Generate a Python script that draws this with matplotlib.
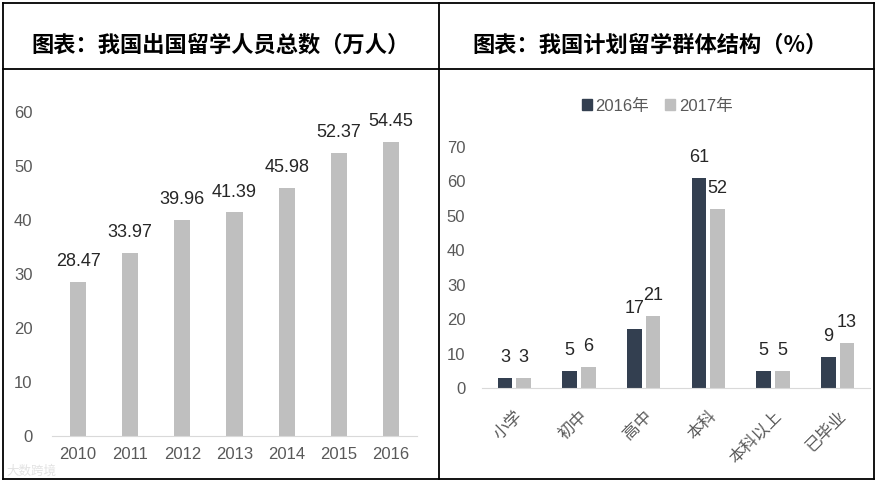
import matplotlib
matplotlib.use("Agg")
import matplotlib.pyplot as plt
from matplotlib.lines import Line2D
from matplotlib.patches import Patch
from matplotlib import font_manager

# data ---------------------------------------------------------------------
years = ["2010", "2011", "2012", "2013", "2014", "2015", "2016"]
students = [28.47, 33.97, 39.96, 41.39, 45.98, 52.37, 54.45]

levels = ["小学", "初中", "高中", "本科", "本科以上", "已毕业"]
share_2016 = [3, 5, 17, 61, 5, 9]
share_2017 = [3, 6, 21, 52, 5, 13]

title_left = "图表：我国出国留学人员总数（万人）"
title_right = "图表：我国计划留学群体结构（%）"
legend_labels = ["2016年", "2017年"]

# fonts --------------------------------------------------------------------
names = {f.name for f in font_manager.fontManager.ttflist}
num_font = "Liberation Sans Narrow" if "Liberation Sans Narrow" in names else "Liberation Sans"
cjk = "Noto Sans CJK SC"
plt.rcParams["font.family"] = [num_font, cjk, "DejaVu Sans"]

GREY = "#BFBFBF"
NAVY = "#333F50"
TXT = "#595959"

fig = plt.figure(figsize=(8.77, 4.83), dpi=100)
W, H = 877, 483


def fx(px):
    return px / W


def fy(py):
    return 1 - py / H


# table borders
for (x0, y0, x1, y1) in [(3, 3, 874, 3), (3, 69, 874, 69), (3, 479, 874, 479),
                         (3, 3, 3, 479), (874, 3, 874, 479), (439, 3, 439, 479)]:
    fig.add_artist(Line2D([fx(x0), fx(x1)], [fy(y0), fy(y1)], color="black", lw=1.3))

fig.text(fx(221), fy(45), title_left, ha="center", va="center", fontsize=16,
         family=[cjk], fontweight="bold", color="black")
fig.text(fx(650), fy(45), title_right, ha="center", va="center", fontsize=16,
         family=[cjk], fontweight="bold", color="black")

# left chart ---------------------------------------------------------------
axl = fig.add_axes([fx(52), fy(436), fx(417) - fx(52), fy(112) - fy(436)])
xl = range(len(years))
axl.bar(xl, students, width=0.31, color=GREY)
for x, v in zip(xl, students):
    axl.text(x, v + 2.2, f"{v:.2f}", ha="center", va="bottom", fontsize=13,
             color="#262626", clip_on=False)
axl.set_xlim(-0.5, len(years) - 0.5)
axl.set_ylim(0, 60)
axl.set_yticks(range(0, 61, 10))
axl.set_xticks(list(xl))
axl.set_xticklabels(years)
for s in ["top", "right", "left"]:
    axl.spines[s].set_visible(False)
axl.spines["bottom"].set_color("#D9D9D9")
axl.tick_params(axis="both", length=0, labelsize=12, colors=TXT, pad=8)
axl.tick_params(axis="y", pad=14)
axl.patch.set_alpha(0)

# watermark, kept small in the corner
fig.text(fx(6), fy(471), "大数跨境", ha="left", va="center", fontsize=9,
         family=[cjk], color="#E0E0E0", alpha=0.9)

# right chart --------------------------------------------------------------
axr = fig.add_axes([fx(482), fy(388), fx(870) - fx(482), fy(147) - fy(388)])
xr = list(range(len(levels)))
bw = 0.23
off = 0.145
axr.bar([x - off for x in xr], share_2016, width=bw, color=NAVY)
axr.bar([x + off for x in xr], share_2017, width=bw, color=GREY)
for x, a, b in zip(xr, share_2016, share_2017):
    axr.text(x - off, a + 3.5, f"{a}", ha="center", va="bottom", fontsize=13, color="#262626")
    axr.text(x + off, b + 3.5, f"{b}", ha="center", va="bottom", fontsize=13, color="#262626")
axr.set_xlim(-0.5, len(levels) - 0.5)
axr.set_ylim(0, 70)
axr.set_yticks(range(0, 71, 10))
axr.set_xticks(xr)
axr.set_xticklabels(levels, rotation=45, ha="right", rotation_mode="anchor",
                    family=[cjk], fontsize=12)
for s in ["top", "right", "left"]:
    axr.spines[s].set_visible(False)
axr.spines["bottom"].set_color("#D9D9D9")
axr.tick_params(axis="x", length=0, colors=TXT, pad=14)
axr.tick_params(axis="y", length=0, labelsize=12, colors=TXT, pad=12)

handles = [Patch(color=NAVY), Patch(color=GREY)]
fig.legend(handles, legend_labels, loc="center", bbox_to_anchor=(fx(657), fy(106)),
           ncol=2, frameon=False, fontsize=12, handlelength=0.6, handleheight=0.6,
           handletextpad=0.2, columnspacing=1.0, labelcolor=TXT)

fig.savefig("out.png", dpi=100)
